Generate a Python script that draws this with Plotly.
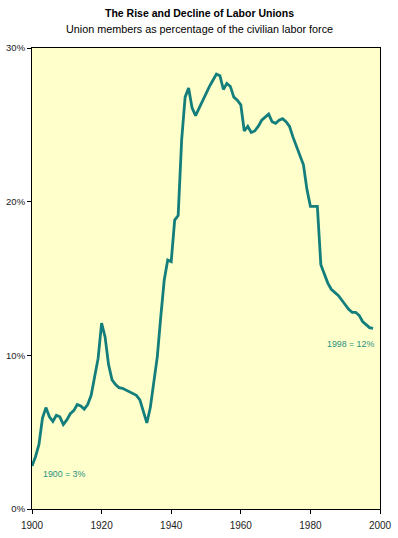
import plotly.graph_objects as go

years = list(range(1900, 1999))
union_pct = [
    2.8, 3.4, 4.2, 5.9, 6.6, 6.0, 5.7, 6.1, 6.0, 5.5,   # 1900-1909
    5.8, 6.2, 6.4, 6.8, 6.7, 6.5, 6.8, 7.4, 8.6, 9.8,   # 1910-1919
    12.1, 11.2, 9.4, 8.4, 8.1, 7.9, 7.85, 7.75, 7.6, 7.5,  # 1920-1929
    7.4, 7.1, 6.4, 5.6, 6.6, 8.3, 9.9, 12.5, 14.9, 16.2,  # 1930-1939
    16.1, 18.8, 19.1, 24.0, 26.8, 27.4, 26.1, 25.6, 26.1, 26.5,  # 1940-1949
    27.0, 27.5, 27.9, 28.3, 28.2, 27.3, 27.7, 27.5, 26.8, 26.6,  # 1950-1959
    26.3, 24.6, 24.9, 24.5, 24.6, 24.9, 25.3, 25.5, 25.7, 25.2,  # 1960-1969
    25.1, 25.3, 25.4, 25.2, 24.9, 24.2, 23.6, 23.0, 22.4, 20.8,  # 1970-1979
    19.7, 19.7, 19.7, 15.9, 15.3, 14.7, 14.3, 14.1, 13.9, 13.6,  # 1980-1989
    13.3, 13.0, 12.8, 12.8, 12.6, 12.2, 12.0, 11.8, 11.75,      # 1990-1998
]

x_ticks = [1900, 1920, 1940, 1960, 1980, 2000]
y_ticks = [0, 10, 20, 30]
y_tick_labels = ["0%", "10%", "20%", "30%"]

title = "<b>The Rise and Decline of Labor Unions</b>"
subtitle = "Union members as percentage of the civilian labor force"
notes = [(1900, 2.8, "1900 = 3%"), (1998, 11.75, "1998 = 12%")]

FONT = "Liberation Sans, Arial, sans-serif"
TEAL = "#137e7b"

fig = go.Figure()
fig.add_trace(go.Scatter(
    x=years, y=union_pct, mode="lines",
    line=dict(color=TEAL, width=2.8), hoverinfo="skip", showlegend=False,
))

axis_common = dict(
    showgrid=False, zeroline=False, automargin=False,
    showline=True, linecolor="black", linewidth=1, mirror=True,
    ticks="outside", ticklen=4, tickcolor="black", tickwidth=1,
)

fig.update_layout(
    width=398, height=538,
    margin=dict(l=32, r=18, t=48, b=29, autoexpand=False),
    paper_bgcolor="white", plot_bgcolor="#ffffcc",
    font=dict(family=FONT, size=9, color="#222"),
    xaxis=dict(range=[1900, 2000], tickvals=x_ticks, ticklabelstandoff=3,
               tickfont=dict(size=10, color="#222"), **axis_common),
    yaxis=dict(range=[0, 30], tickvals=y_ticks, ticktext=y_tick_labels,
               tickfont=dict(size=9.5, color="#222"), **axis_common),
)

xc = 0.5 - (32 - 18) / 2 / 348
fig.add_annotation(text=title, xref="paper", yref="paper", x=xc,
                   y=1, yanchor="middle", yshift=35, showarrow=False,
                   font=dict(family=FONT, size=10.5, color="black"))
fig.add_annotation(text=subtitle, xref="paper", yref="paper", x=xc,
                   y=1, yanchor="middle", yshift=19.5, showarrow=False,
                   font=dict(family=FONT, size=10.8, color="black"))

fig.add_annotation(x=notes[0][0], y=notes[0][1], text=notes[0][2], showarrow=False,
                   xanchor="left", yanchor="middle", xshift=9, yshift=-8,
                   font=dict(size=8.8, color="#2a9080"))
fig.add_annotation(x=notes[1][0], y=notes[1][1], text=notes[1][2], showarrow=False,
                   xanchor="right", yanchor="middle", xshift=3, yshift=-16,
                   font=dict(size=8.8, color="#2a9080"))

fig.write_html("out.html")
